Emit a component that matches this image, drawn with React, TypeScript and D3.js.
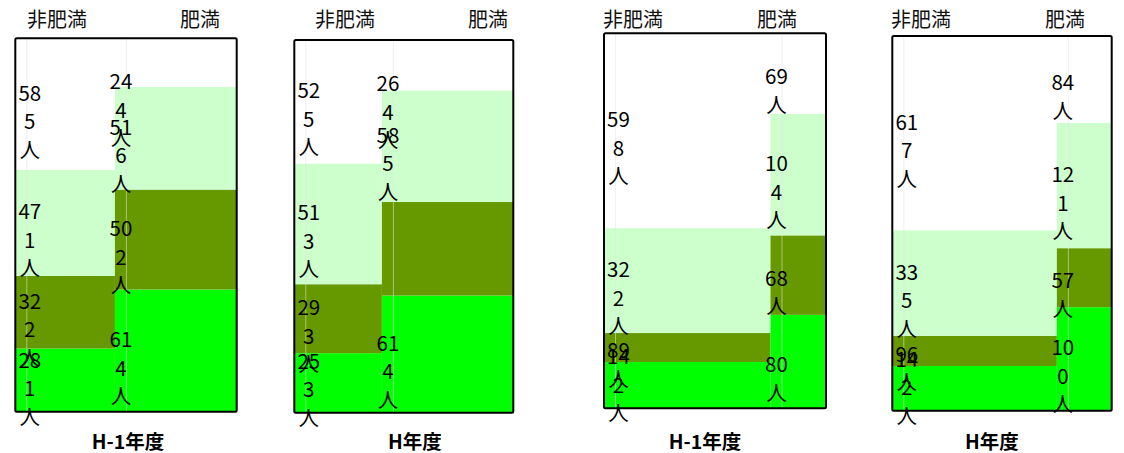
import React from "react";
import * as d3 from "d3";

// Year captions under each panel
const panelTitles = ["H-1年度", "H年度", "H-1年度", "H年度"];
// Column headers
const groupNames = ["非肥満", "肥満"];
// Share of each panel's width held by the 非肥満 column (%)
const nonObeseShare = [45, 40, 75, 75];
// Head counts per column, stacked bottom to top
const nonObeseCounts = [
  [281, 322, 471, 585],
  [253, 293, 513, 525],
  [142, 89, 322, 598],
  [142, 96, 335, 617],
];
const obeseCounts = [
  [614, 502, 516, 244],
  [614, 490, 585, 264],
  [80, 68, 104, 69],
  [100, 57, 121, 84],
];
// Which segments carry a count label
const nonObeseLabelled = [
  [true, true, true, true],
  [true, true, true, true],
  [true, true, true, true],
  [true, true, true, true],
];
const obeseLabelled = [
  [true, true, true, true],
  [true, false, true, true],
  [true, true, true, true],
  [true, true, true, true],
];

const segmentColors = ["#00FF00", "#669900", "#CCFFCC", "#FFFFFF"];

// Panel frames and text anchors
const layout = [
  { left: 15.3, right: 236.7, top: 38.3, bottom: 411.7, head: [57, 200], title: 128 },
  { left: 294.3, right: 513.3, top: 40, bottom: 412.7, head: [345, 488], title: 415 },
  { left: 604, right: 826, top: 33.3, bottom: 408.3, head: [633, 777], title: 705 },
  { left: 892.3, right: 1111.7, top: 36, bottom: 410.7, head: [921, 1065], title: 992 },
];

const FONT = "'Noto Sans CJK JP', 'Noto Sans', sans-serif";
const LINE = 28.5;
const FS = 20.5;

function labelLines(v: number): string[] {
  const s = String(v);
  const out: string[] = [];
  for (let i = 0; i < s.length; i += 2) out.push(s.slice(i, i + 2));
  out.push("人");
  return out;
}

type Col = { x0: number; x1: number; counts: number[]; labelled: boolean[]; labelDx: number };

function Panel({ idx }: { idx: number }) {
  const L = layout[idx];
  const x = d3.scaleLinear().domain([0, 100]).range([L.left, L.right]);
  const share = nonObeseShare[idx];
  const cols: Col[] = [
    { x0: x(0), x1: x(share), counts: nonObeseCounts[idx], labelled: nonObeseLabelled[idx], labelDx: 14.5 },
    { x0: x(share), x1: x(100), counts: obeseCounts[idx], labelled: obeseLabelled[idx], labelDx: 6 },
  ];

  const rects: React.ReactNode[] = [];
  const labels: React.ReactNode[] = [];
  const guides: React.ReactNode[] = [];

  cols.forEach((c, ci) => {
    const total = d3.sum(c.counts);
    const y = d3.scaleLinear().domain([0, total]).range([L.bottom, L.top]);
    const ends = Array.from(d3.cumsum(c.counts));
    c.counts.forEach((v, si) => {
      const lo = si === 0 ? 0 : ends[si - 1];
      const hi = ends[si];
      rects.push(
        <rect
          key={`r${ci}-${si}`}
          x={c.x0}
          y={y(hi)}
          width={c.x1 - c.x0}
          height={y(lo) - y(hi)}
          fill={segmentColors[si]}
        />
      );
      if (!c.labelled[si]) return;
      const lines = labelLines(v);
      const center = (y(lo) + y(hi)) / 2 + 16;
      const half = ((lines.length - 1) * LINE) / 2;
      let first = center - half;
      if (first < L.top + 42) first = L.top + 42;
      let last = first + (lines.length - 1) * LINE;
      if (last > L.bottom + 4) {
        last = L.bottom + 4;
        first = last - (lines.length - 1) * LINE;
      }
      labels.push(
        <text
          key={`t${ci}-${si}`}
          x={c.x0 + c.labelDx}
          textAnchor="middle"
          fontFamily={FONT}
          fontSize={FS}
          fill="#000"
        >
          {lines.map((ln, li) => (
            <tspan key={li} x={c.x0 + c.labelDx} y={first + li * LINE} dominantBaseline="central">
              {ln}
            </tspan>
          ))}
        </text>
      );
    });
    guides.push(
      <line
        key={`g${ci}`}
        x1={c.x0 + 11.5}
        x2={c.x0 + 11.5}
        y1={L.top}
        y2={L.bottom}
        stroke="#e4e4e4"
        strokeOpacity={0.55}
        strokeWidth={1}
      />
    );
  });

  return (
    <g>
      {rects}
      {guides}
      <rect
        x={L.left}
        y={L.top}
        width={L.right - L.left}
        height={L.bottom - L.top}
        fill="none"
        stroke="#000"
        strokeWidth={2}
        rx={1.5}
      />
      {groupNames.map((g, gi) => (
        <text
          key={g}
          x={L.head[gi]}
          y={18.5}
          textAnchor="middle"
          dominantBaseline="central"
          fontFamily={FONT}
          fontSize={20}
          fill="#111"
        >
          {g}
        </text>
      ))}
      <text
        x={L.title}
        y={440}
        textAnchor="middle"
        dominantBaseline="central"
        fontFamily={FONT}
        fontSize={19.5}
        fontWeight="bold"
        fill="#000"
      >
        {panelTitles[idx]}
      </text>
      {labels}
    </g>
  );
}

export default function App() {
  return (
    <svg
      width={1124}
      height={453}
      style={{ position: "absolute", left: 0, top: 0, background: "#fff" }}
    >
      <rect width={1124} height={453} fill="#fff" />
      {panelTitles.map((_, i) => (
        <Panel key={i} idx={i} />
      ))}
    </svg>
  );
}
